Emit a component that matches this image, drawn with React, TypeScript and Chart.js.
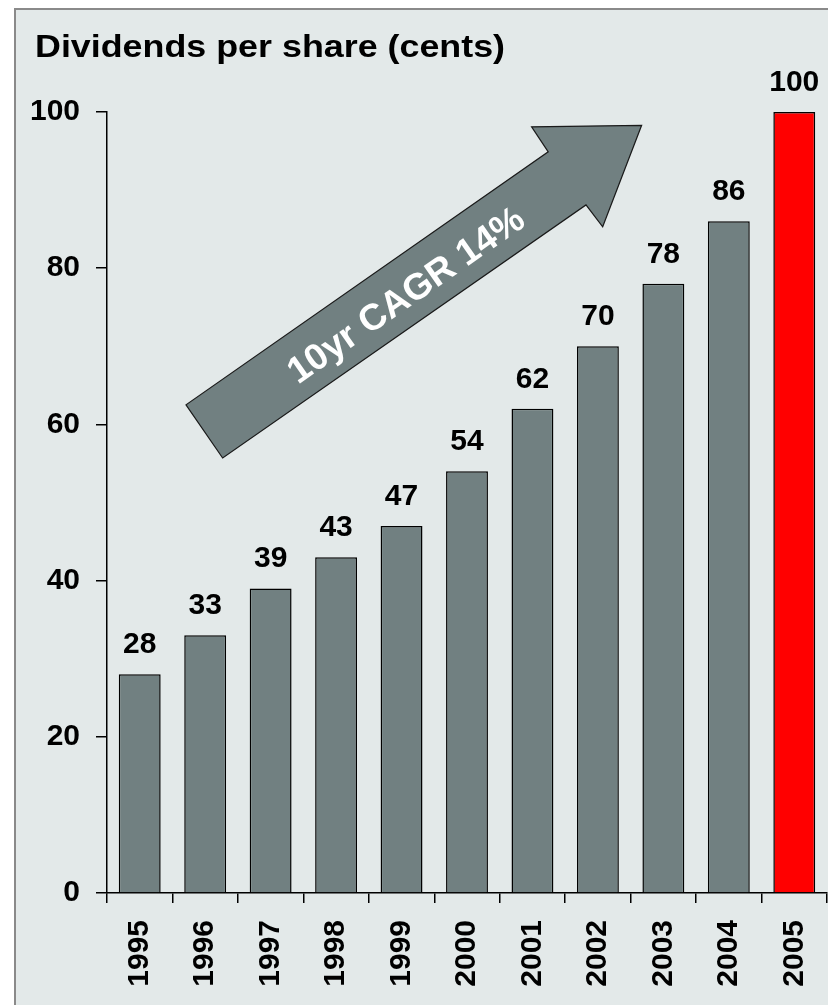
import React, { useEffect, useRef } from "react";
import { Chart, registerables } from "chart.js";

Chart.register(...registerables);

const years = ["1995", "1996", "1997", "1998", "1999", "2000", "2001", "2002", "2003", "2004", "2005"];
const dividends = [28, 33, 39, 43, 47, 54, 62, 70, 78, 86, 100];
const barColors = ["#718081", "#718081", "#718081", "#718081", "#718081", "#718081", "#718081", "#718081", "#718081", "#718081", "#ff0000"];
const yTicks = [0, 20, 40, 60, 80, 100];
const titleText = "Dividends per share (cents)";
const arrowText = "10yr CAGR 14%";
// arrow outline in data units: [category index, value]
const arrowX = [0.707, 1.267, 6.818, 7.073, 7.668, 5.987, 6.241];
const arrowY = [62.5, 55.7, 88.1, 85.3, 98.3, 98.1, 94.9];
const arrowLabelAt = [4.08, 76.4];

const FONT = '"Liberation Sans", Arial, Helvetica, sans-serif';

export default function App() {
  const ref = useRef<HTMLCanvasElement | null>(null);

  useEffect(() => {
    const canvas = ref.current;
    if (!canvas) return;

    const decor = {
      id: "decor",
      beforeDraw(chart: any) {
        const ctx = chart.ctx;
        ctx.save();
        ctx.fillStyle = "#ffffff";
        ctx.fillRect(0, 0, chart.width, chart.height);
        ctx.fillStyle = "#e3e9e9";
        ctx.fillRect(15, 8, chart.width, chart.height);
        ctx.strokeStyle = "#8a8a8a";
        ctx.lineWidth = 2;
        ctx.strokeRect(15, 9, chart.width + 20, chart.height + 20);
        // title
        ctx.fillStyle = "#000";
        ctx.font = `bold 32px ${FONT}`;
        ctx.textBaseline = "alphabetic";
        ctx.textAlign = "left";
        ctx.translate(35, 57);
        ctx.scale(1.12, 1);
        ctx.fillText(titleText, 0, 0);
        ctx.restore();
      },
      afterDatasetsDraw(chart: any) {
        const ctx = chart.ctx;
        const xs = chart.scales.x;
        const ys = chart.scales.y;
        const meta = chart.getDatasetMeta(0);
        ctx.save();
        // value labels
        ctx.fillStyle = "#000";
        ctx.font = `bold 30px ${FONT}`;
        ctx.textAlign = "center";
        ctx.textBaseline = "alphabetic";
        meta.data.forEach((bar: any, i: number) => {
          ctx.fillText(String(dividends[i]), bar.x, bar.y - 21);
        });
        // arrow
        ctx.beginPath();
        arrowX.forEach((ax, i) => {
          const px = xs.getPixelForValue(ax);
          const py = ys.getPixelForValue(arrowY[i]);
          if (i === 0) ctx.moveTo(px, py);
          else ctx.lineTo(px, py);
        });
        ctx.closePath();
        ctx.fillStyle = "#718081";
        ctx.fill();
        ctx.strokeStyle = "#1a1a1a";
        ctx.lineWidth = 1.2;
        ctx.stroke();
        // arrow label
        const p0x = xs.getPixelForValue(arrowX[0]);
        const p0y = ys.getPixelForValue(arrowY[0]);
        const p1x = xs.getPixelForValue(arrowX[6]);
        const p1y = ys.getPixelForValue(arrowY[6]);
        const ang = Math.atan2(p1y - p0y, p1x - p0x);
        ctx.translate(xs.getPixelForValue(arrowLabelAt[0]), ys.getPixelForValue(arrowLabelAt[1]));
        ctx.rotate(ang);
        ctx.fillStyle = "#ffffff";
        ctx.font = `bold 37px ${FONT}`;
        ctx.textAlign = "center";
        ctx.textBaseline = "middle";
        ctx.fillText(arrowText, 0, 0);
        ctx.restore();
      },
    };

    const chart = new Chart(canvas, {
      type: "bar",
      data: {
        labels: years,
        datasets: [
          {
            data: dividends,
            backgroundColor: barColors,
            borderColor: "#000",
            borderWidth: 1.5,
            borderSkipped: "start",
            barPercentage: 0.64,
            categoryPercentage: 1,
          },
        ],
      },
      options: {
        responsive: false,
        animation: false,
        devicePixelRatio: 1,
        layout: { padding: { top: 112, right: 1, left: 0, bottom: 0 } },
        plugins: {
          legend: { display: false },
          tooltip: { enabled: false },
          title: { display: false },
        },
        scales: {
          x: {
            offset: true,
            grid: {
              offset: true,
              drawOnChartArea: false,
              drawTicks: true,
              tickLength: 10,
              color: "#000",
              lineWidth: 1.5,
            },
            border: { display: true, color: "#000", width: 1.5 },
            ticks: {
              autoSkip: false,
              minRotation: 90,
              maxRotation: 90,
              padding: 17,
              color: "#000",
              font: { family: FONT, size: 30, weight: "bold" },
            },
            afterFit(scale: any) {
              scale.height = 112;
              scale.paddingLeft = 0;
              scale.paddingRight = 0;
            },
          },
          y: {
            min: 0,
            max: 100,
            afterBuildTicks(scale: any) {
              scale.ticks = yTicks.map((v) => ({ value: v }));
            },
            grid: {
              drawOnChartArea: false,
              drawTicks: true,
              tickLength: 11,
              color: "#000",
              lineWidth: 1.5,
            },
            border: { display: true, color: "#000", width: 1.5 },
            ticks: {
              padding: 16,
              color: "#000",
              font: { family: FONT, size: 30, weight: "bold" },
            },
            afterFit(scale: any) {
              scale.width = 107;
              scale.paddingTop = 0;
              scale.paddingBottom = 0;
            },
          },
        },
      },
      plugins: [decor],
    });

    return () => chart.destroy();
  }, []);

  return (
    <div style={{ position: "absolute", left: 0, top: 0, width: 828, height: 1005 }}>
      <canvas ref={ref} width={828} height={1005} style={{ display: "block", width: 828, height: 1005 }} />
    </div>
  );
}
